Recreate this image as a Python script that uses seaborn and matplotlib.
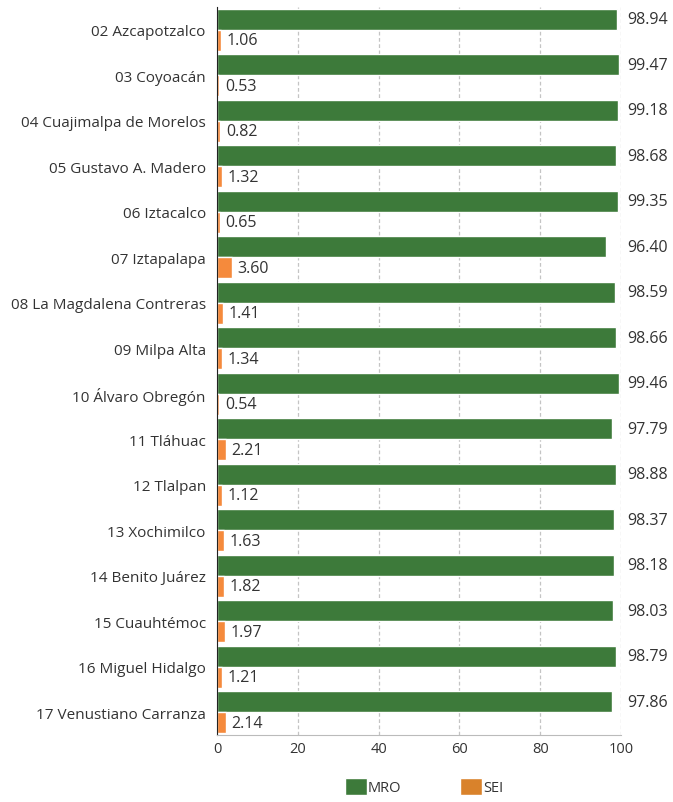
import pandas as pd
import matplotlib.pyplot as plt
import seaborn as sns
from matplotlib.patches import Patch

alcaldias = [
    '02 Azcapotzalco', '03 Coyoacán', '04 Cuajimalpa de Morelos', '05 Gustavo A. Madero',
    '06 Iztacalco', '07 Iztapalapa', '08 La Magdalena Contreras', '09 Milpa Alta',
    '10 Álvaro Obregón', '11 Tláhuac', '12 Tlalpan', '13 Xochimilco',
    '14 Benito Juárez', '15 Cuauhtémoc', '16 Miguel Hidalgo', '17 Venustiano Carranza',
]
mro = [98.94, 99.47, 99.18, 98.68, 99.35, 96.40, 98.59, 98.66,
       99.46, 97.79, 98.88, 98.37, 98.18, 98.03, 98.79, 97.86]
sei = [1.06, 0.53, 0.82, 1.32, 0.65, 3.60, 1.41, 1.34,
       0.54, 2.21, 1.12, 1.63, 1.82, 1.97, 1.21, 2.14]
series = ['MRO', 'SEI']

green = '#3D7A3A'
orange = '#F58A3C'
orange_legend = '#D9822B'

df = pd.DataFrame({
    'alcaldia': alcaldias * 2,
    'valor': mro + sei,
    'serie': ['MRO'] * len(mro) + ['SEI'] * len(sei),
})

sns.set_style('white')
plt.rcParams['font.family'] = ['Open Sans', 'DejaVu Sans']

fig, ax = plt.subplots(figsize=(6.73, 8.03), dpi=100)
fig.subplots_adjust(left=0.3224, right=0.9227, top=0.990, bottom=0.0834)

sns.barplot(data=df, y='alcaldia', x='valor', hue='serie', order=alcaldias,
            hue_order=series, palette=[green, orange], orient='h', saturation=1,
            width=0.92, gap=0.0, legend=False, ax=ax)

ax.set_xlim(0, 100)
ax.set_ylim(len(alcaldias) - 0.5, -0.5)
ax.set_xticks([0, 20, 40, 60, 80, 100])
ax.set_xlabel('')
ax.set_ylabel('')
ax.tick_params(axis='x', labelsize=10.5, colors='#333333', length=0, pad=4)
ax.tick_params(axis='y', labelsize=11, colors='#333333', length=0, pad=8)
ax.grid(axis='x', linestyle=(0, (3, 2)), color='#c4c4c4', linewidth=0.9)
ax.grid(axis='y', visible=False)
ax.set_axisbelow(True)
for side in ['top', 'right']:
    ax.spines[side].set_visible(False)
ax.spines['left'].set_color('#222222')
ax.spines['bottom'].set_color('#bbbbbb')

# value labels
for i, (m, s) in enumerate(zip(mro, sei)):
    ax.text(101.5, i - 0.23, f'{m:.2f}', va='center', ha='left', fontsize=11.5,
            color='#333333', clip_on=False)
    ax.text(s + 1.4, i + 0.23, f'{s:.2f}', va='center', ha='left', fontsize=11.5,
            color='#333333')

handles = [Patch(facecolor=green, label='MRO'), Patch(facecolor=orange_legend, label='SEI')]
fig.legend(handles=handles, loc='lower center', bbox_to_anchor=(0.63, -0.008), ncol=2,
           frameon=False, fontsize=10.5, handlelength=1.5, handleheight=1.5,
           columnspacing=4.0, handletextpad=0.1, labelcolor='#333333')

plt.savefig('out.png', dpi=100)
